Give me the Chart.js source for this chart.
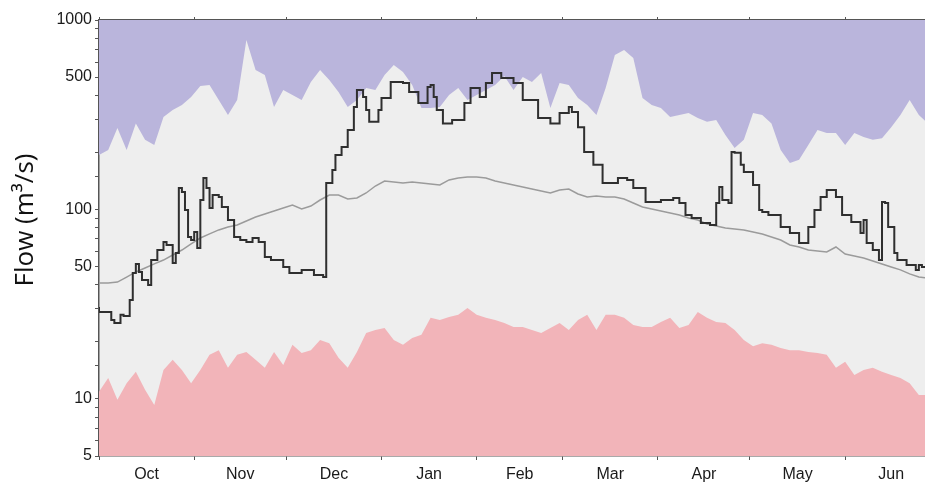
<!DOCTYPE html>
<html>
<head>
<meta charset="utf-8">
<script src="https://cdn.jsdelivr.net/npm/chart.js@4.4.0/dist/chart.umd.min.js"></script>
<style>
    html, body { margin: 0; padding: 0; background: #fff; }
    #wrap { width: 925px; height: 484px; position: relative; }
</style>
</head>
<body>
<div id="wrap"><canvas id="flowChart"></canvas></div>
<script>
"use strict";

// x is days since 1 Oct
const monthStarts = [0, 31, 61, 92, 123, 151, 182, 212, 243];
const monthMids = [15.5, 46, 76.5, 107.5, 137, 166.5, 197, 227.5, 258];
const monthNames = ["Oct", "Nov", "Dec", "Jan", "Feb", "Mar", "Apr", "May", "Jun"];
const flowTicks = [5, 10, 50, 100, 500, 1000];
const yTitle = "Flow (m³/s)";

const envDays = [0, 3, 6, 9, 12, 15, 18, 21, 24, 27, 30, 33, 36, 39, 42, 45, 48, 51, 54, 57,
    60, 63, 66, 69, 72, 75, 78, 81, 84, 87, 90, 93, 96, 99, 102, 105, 108, 111, 114, 117,
    120, 123, 126, 129, 132, 135, 138, 141, 144, 147, 150, 153, 156, 159, 162, 165, 168, 171, 174, 177,
    180, 183, 186, 189, 192, 195, 198, 201, 204, 207, 210, 213, 216, 219, 222, 225, 228, 231, 234, 237,
    240, 243, 246, 249, 252, 255, 258, 261, 264, 267, 270];

const maxFlow = [194, 206, 269, 206, 284, 233, 219, 308, 335, 356,
    392, 449, 454, 378, 315, 378, 784, 545, 513, 347,
    427, 402, 378, 471, 545, 482, 417, 347, 378, 438,
    427, 513, 579, 532, 454, 343, 343, 347, 402, 438,
    378, 402, 427, 454, 506, 427, 500, 471, 525, 343,
    465, 454, 388, 356, 315, 438, 654, 694, 630, 388,
    356, 343, 308, 315, 323, 304, 290, 297, 247, 211,
    233, 323, 315, 284, 206, 176, 183, 219, 263, 253,
    253, 219, 253, 241, 233, 238, 272, 315, 378, 315,
    284];

const minFlow = [10.9, 12.9, 9.9, 12.1, 13.9, 11.2, 9.3, 14.2, 16.1, 14.2,
    12.1, 14.2, 17.1, 18.1, 14.6, 17.1, 17.7, 16.1, 14.6, 17.7,
    15.1, 19.3, 17.5, 18.1, 20.5, 19.7, 16.5, 14.6, 17.7, 22.3,
    23.1, 23.7, 20.5, 19.3, 21.0, 21.8, 26.8, 26.1, 27.1, 27.8,
    30.2, 27.8, 26.8, 26.1, 25.2, 24.0, 24.0, 23.1, 22.3, 23.7,
    25.2, 23.1, 26.1, 27.8, 23.1, 27.8, 27.8, 26.8, 24.6, 24.0,
    24.0, 25.5, 26.8, 23.7, 24.6, 28.8, 26.8, 25.5, 25.2, 23.1,
    20.5, 19.0, 19.7, 19.3, 18.6, 18.1, 18.1, 17.7, 17.5, 17.1,
    14.6, 15.7, 13.4, 14.2, 14.6, 13.9, 13.4, 12.9, 12.1, 10.5,
    10.5];

const medianFlow = [40.9, 40.9, 41.4, 44.0, 46.8, 49.1, 51.6, 54.1, 57.5, 61.1,
    65.8, 70.7, 74.3, 78.0, 80.9, 82.8, 87.0, 91.3, 94.7, 98.2,
    101.8, 105.6, 100.6, 104.3, 112.2, 119.2, 119.2, 113.6, 115.0, 122.2,
    133.0, 141.4, 139.7, 138.0, 139.7, 138.0, 136.3, 134.6, 143.2, 146.7,
    148.5, 148.5, 146.7, 141.4, 138.0, 134.6, 131.5, 128.3, 125.2, 122.2,
    126.8, 128.3, 120.7, 116.4, 117.8, 116.4, 116.4, 113.6, 108.2, 103.1,
    100.6, 98.2, 95.8, 93.5, 90.2, 88.0, 83.8, 81.8, 79.9, 78.9,
    78.0, 76.1, 74.3, 71.6, 69.0, 65.0, 63.4, 61.1, 60.4, 59.7,
    63.4, 58.2, 56.8, 55.5, 53.5, 51.6, 49.7, 48.0, 45.7, 44.0,
    43.5];

const currentDays = [0, 4, 5, 7, 8, 10, 11, 12, 13, 14, 16, 17, 19, 21, 22, 24, 25, 26, 27, 28,
    29, 30, 31, 32, 33, 34, 35, 36, 37, 39, 40, 42, 44, 46, 48, 50, 52, 54, 56, 60,
    62, 66, 70, 73, 74, 76, 77, 79, 81, 83, 84, 86, 87, 88, 91, 92, 95, 99, 101, 104,
    107, 108, 109, 110, 112, 115, 119, 121, 124, 126, 128, 131, 135, 138, 143, 147, 150, 153, 154, 156,
    158, 161, 164, 169, 172, 174, 178, 183, 187, 189, 191, 193, 196, 199, 201, 202, 203, 205, 206, 207,
    209, 210, 213, 215, 216, 218, 222, 225, 228, 231, 233, 235, 237, 240, 242, 245, 248, 249, 250, 252,
    254, 255, 256, 257, 259, 260, 263, 266, 267, 268, 270];

const currentFlow = [30.6, 28.8, 26.1, 25.2, 27.8, 27.4, 33.3, 46.2, 51.6, 46.8, 42.4, 40.0, 54.1, 61.1, 67.4, 65.0, 52.2, 58.9, 129.9, 123.7,
    99.4, 71.6, 69.0, 76.1, 62.7, 112.2, 146.7, 129.9, 101.8, 119.2, 116.4, 103.1, 88.0, 71.6, 69.0, 67.4, 70.7, 67.4, 56.1, 54.1,
    49.7, 46.2, 48.0, 45.1, 44.0, 138.0, 161.6, 194, 213.6, 263, 347, 427, 392, 335, 290, 335, 388, 471, 465, 417,
    365, 443, 454, 392, 335, 284, 297, 365, 438, 392, 465, 525, 494, 465, 378, 304, 284, 323, 347, 327,
    272, 201, 172, 138, 146.7, 143, 129.9, 109.6, 112.2, 115, 108.2, 93.5, 90.2, 84.9, 82.8, 108.2, 131.5, 112.2, 108.2, 201,
    199, 172, 157.7, 134.6, 99.4, 97.0, 93.5, 80.9, 75.2, 66.6, 80.9, 99.4, 116.4, 126.8, 116.4, 93.5, 85.9, 75.2, 88.0, 66.6,
    61.1, 54.1, 109.6, 108.2, 80.9, 58.9, 54.1, 50.9, 48.0, 50.9, 49.7];

(() => {

    const toPoints = (xs, ys) => xs.map((x, i) => ({x: x, y: ys[i]}));

    const bottomTicks = [...monthStarts, ...monthMids, 269].sort((a, b) => a - b);

    const tickFont = {family: "Liberation Sans", size: 16};
    const axisColor = "#555555";

    // light grey plot area behind everything
    const plotBackground = {
        id: "plotBackground",
        beforeDraw(chart) {
            const {ctx, chartArea} = chart;
            ctx.save();
            ctx.fillStyle = "#eeeeee";
            ctx.fillRect(chartArea.left, chartArea.top, chartArea.right - chartArea.left, chartArea.bottom - chartArea.top);
            ctx.restore();
        }
    };

    // y axis title, placed a bit above the middle like the original
    const flowTitle = {
        id: "flowTitle",
        afterDraw(chart) {
            const c = chart.ctx;
            c.save();
            c.translate(33, 220);
            c.rotate(-Math.PI / 2);
            c.font = "26px 'Open Sans'";
            c.fillStyle = "#111111";
            c.textAlign = "center";
            c.textBaseline = "alphabetic";
            c.fillText(yTitle, 0, 0);
            c.restore();
        }
    };

    const ctx = document.getElementById("flowChart");

    new Chart(ctx, {
        type: "line",
        data: {
            datasets: [
                {
                    label: "Current",
                    data: toPoints(currentDays, currentFlow),
                    borderColor: "#2f2f2f",
                    borderWidth: 2,
                    stepped: "after",
                    pointRadius: 0,
                    fill: false,
                    order: 0
                },
                {
                    label: "Median",
                    data: toPoints(envDays, medianFlow),
                    borderColor: "#9b9b9b",
                    borderWidth: 1.5,
                    pointRadius: 0,
                    fill: false,
                    order: 1
                },
                {
                    label: "Max",
                    data: toPoints(envDays, maxFlow),
                    borderWidth: 0,
                    borderColor: "rgba(0,0,0,0)",
                    backgroundColor: "#bab5dc",
                    pointRadius: 0,
                    fill: "end",
                    order: 2
                },
                {
                    label: "Min",
                    data: toPoints(envDays, minFlow),
                    borderWidth: 0,
                    borderColor: "rgba(0,0,0,0)",
                    backgroundColor: "#f2b4b9",
                    pointRadius: 0,
                    fill: "start",
                    order: 3
                }
            ]
        },
        options: {
            responsive: true,
            maintainAspectRatio: false,
            animation: false,
            layout: {autoPadding: false, padding: {top: 20, left: 0, right: 0, bottom: 0}},
            plugins: {
                legend: {display: false},
                tooltip: {enabled: false}
            },
            scales: {
                x: {
                    type: "linear",
                    min: 0,
                    max: 269,
                    afterBuildTicks: (scale) => {
                        scale.ticks = bottomTicks.map((v) => ({value: v}));
                    },
                    afterFit: (scale) => {
                        scale.height = 28;
                        scale.paddingLeft = 0;
                        scale.paddingRight = 0;
                    },
                    grid: {
                        drawOnChartArea: false,
                        tickLength: 4,
                        tickColor: (c) => (c.tick && monthStarts.includes(c.tick.value)) ? axisColor : "rgba(0,0,0,0)"
                    },
                    border: {color: axisColor, width: 1.5},
                    ticks: {
                        autoSkip: false,
                        maxRotation: 0,
                        padding: 5,
                        color: "#1a1a1a",
                        font: tickFont,
                        callback: (value) => {
                            let i = monthMids.indexOf(value);
                            return i >= 0 ? monthNames[i] : "";
                        }
                    }
                },
                xTop: {
                    type: "linear",
                    position: "top",
                    min: 0,
                    max: 269,
                    afterBuildTicks: (scale) => {
                        scale.ticks = monthStarts.map((v) => ({value: v}));
                    },
                    afterFit: (scale) => {
                        scale.height = 0;
                        scale.paddingLeft = 0;
                        scale.paddingRight = 0;
                    },
                    grid: {drawOnChartArea: false, tickLength: 3, tickColor: axisColor},
                    border: {color: axisColor, width: 1.5},
                    ticks: {display: false}
                },
                y: {
                    type: "logarithmic",
                    min: 5,
                    max: 1000,
                    afterFit: (scale) => {
                        scale.width = 99;
                    },
                    grid: {drawOnChartArea: false, tickLength: 4, tickColor: axisColor},
                    border: {color: axisColor, width: 1.5},
                    ticks: {
                        autoSkip: false,
                        padding: 3,
                        color: "#1a1a1a",
                        font: tickFont,
                        callback: (value) => flowTicks.some((t) => Math.abs(t - value) < 1e-6) ? String(Math.round(value)) : ""
                    }
                }
            }
        },
        plugins: [plotBackground, flowTitle]
    });

})();
</script>
</body>
</html>
